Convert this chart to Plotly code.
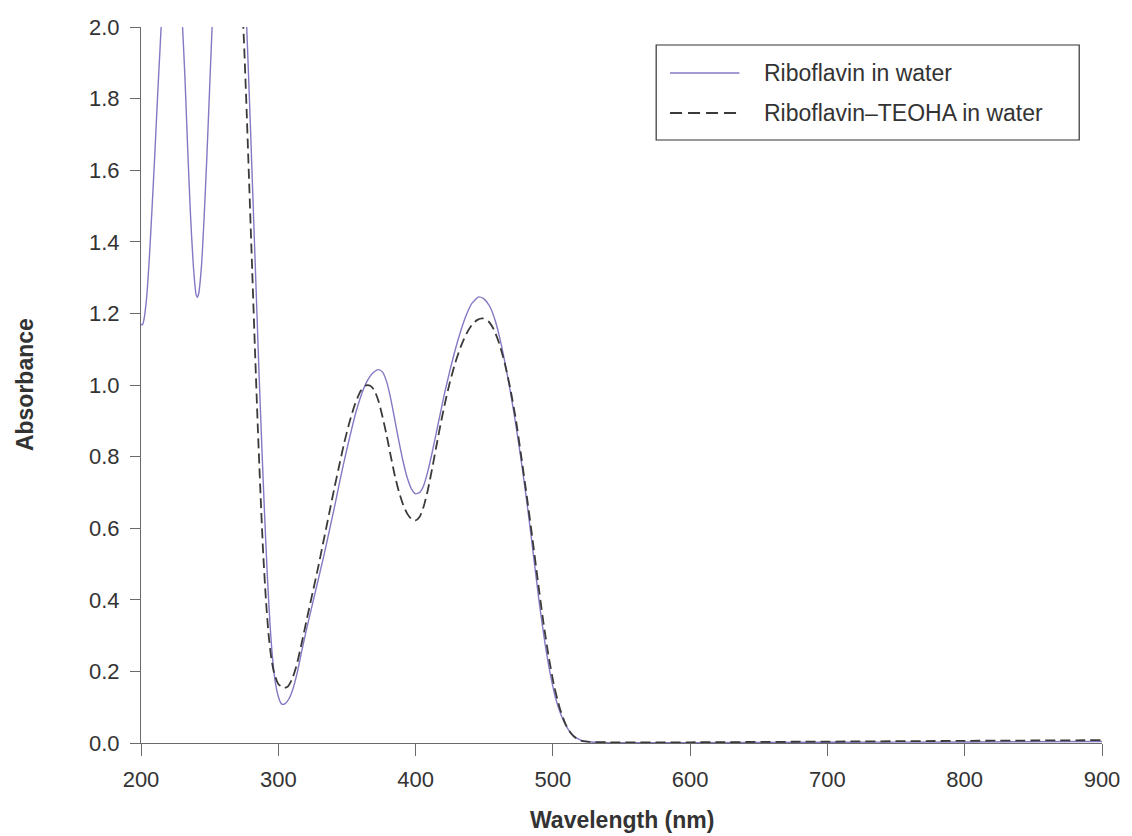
import plotly.graph_objects as go

# Riboflavin in water: absorbance spectrum
wl_water = [200, 201, 202, 204, 206, 208, 210, 212, 214, 216, 219, 222, 225, 228, 230,
            232, 234, 236, 238, 240, 241, 242, 244, 246, 248, 250, 252, 255, 260, 265,
            269, 273, 276, 278, 280, 282, 284, 286, 288, 290, 292, 294, 296, 298, 300,
            302, 303, 305, 308, 311, 314, 317, 321, 325, 329, 333, 337, 341, 345, 349,
            353, 357, 361, 365, 369, 373, 376, 379, 382, 385, 388, 391, 394, 397, 400,
            403, 406, 409, 412, 415, 418, 421, 425, 429, 433, 437, 441, 446, 450, 454,
            458, 462, 466, 470, 474, 478, 482, 486, 490, 494, 498, 502, 506, 510, 514,
            518, 522, 528, 540, 600, 700, 800, 900]
abs_water = [1.17, 1.168, 1.18, 1.24, 1.35, 1.49, 1.64, 1.80, 1.95, 2.10, 2.28, 2.36, 2.32, 2.15, 2.02,
             1.86, 1.66, 1.48, 1.34, 1.255, 1.245, 1.255, 1.33, 1.47, 1.64, 1.83, 2.02, 2.30, 2.62, 2.78,
             2.72, 2.42, 2.10, 1.90, 1.69, 1.47, 1.25, 1.03, 0.83, 0.64, 0.47, 0.33, 0.23, 0.165, 0.13,
             0.111, 0.108, 0.11, 0.125, 0.155, 0.20, 0.255, 0.325, 0.39, 0.455, 0.52, 0.59, 0.66, 0.735, 0.805,
             0.87, 0.93, 0.978, 1.013, 1.034, 1.043, 1.036, 1.008, 0.96, 0.90, 0.84, 0.785, 0.74, 0.71, 0.696,
             0.70, 0.72, 0.76, 0.81, 0.865, 0.92, 0.975, 1.04, 1.10, 1.152, 1.196, 1.228, 1.246, 1.24, 1.22,
             1.18, 1.12, 1.045, 0.96, 0.865, 0.76, 0.645, 0.52, 0.395, 0.285, 0.195, 0.125, 0.078, 0.045, 0.024,
             0.012, 0.006, 0.003, 0.001, 0.001, 0.002, 0.003, 0.004]

# Riboflavin-TEOHA in water: absorbance spectrum
wl_teoha = [270, 273, 275, 277, 279, 281, 283, 285, 287, 289, 291, 293, 295, 297, 300,
            304, 307, 310, 313, 317, 321, 325, 329, 333, 337, 341, 344, 348, 352, 356,
            360, 364, 367, 370, 373, 376, 379, 382, 385, 388, 391, 394, 397, 400, 403,
            406, 409, 412, 415, 418, 421, 425, 429, 433, 437, 441, 445, 449, 453, 457,
            461, 465, 469, 473, 477, 481, 485, 489, 493, 497, 501, 505, 509, 513, 517,
            521, 527, 540, 600, 700, 800, 900]
abs_teoha = [2.40, 2.12, 1.96, 1.76, 1.54, 1.32, 1.10, 0.89, 0.70, 0.53, 0.40, 0.30, 0.235, 0.195, 0.165,
             0.154, 0.158, 0.178, 0.212, 0.278, 0.35, 0.42, 0.49, 0.565, 0.64, 0.715, 0.768, 0.838, 0.898, 0.948,
             0.983, 0.999, 0.998, 0.985, 0.955, 0.91, 0.858, 0.80, 0.745, 0.70, 0.665, 0.64, 0.626, 0.622, 0.632,
             0.662, 0.708, 0.765, 0.826, 0.886, 0.942, 1.008, 1.063, 1.108, 1.143, 1.168, 1.182, 1.186, 1.178, 1.155,
             1.115, 1.06, 0.99, 0.905, 0.80, 0.69, 0.575, 0.455, 0.34, 0.24, 0.158, 0.098, 0.055, 0.028, 0.013,
             0.006, 0.003, 0.002, 0.002, 0.004, 0.006, 0.008]

series_names = ["Riboflavin in water", "Riboflavin\u2013TEOHA in water"]
x_ticks = [200, 300, 400, 500, 600, 700, 800, 900]
y_ticks = [0.0, 0.2, 0.4, 0.6, 0.8, 1.0, 1.2, 1.4, 1.6, 1.8, 2.0]

FONT = "Liberation Sans, Arial, Helvetica, sans-serif"
TEXT = "#333333"
AXIS = "#6a6a6a"
SOLID_COLOR = "#8677c4"
DASH_COLOR = "#3a3a3a"
DASH_PATTERN = "10px,5px"

fig = go.Figure()
fig.add_trace(go.Scatter(
    x=wl_water, y=abs_water, mode="lines", name=series_names[0],
    line=dict(color=SOLID_COLOR, width=1.4, shape="spline", smoothing=0.6),
    showlegend=False,
))
fig.add_trace(go.Scatter(
    x=wl_teoha, y=abs_teoha, mode="lines", name=series_names[1],
    line=dict(color=DASH_COLOR, width=1.8, dash=DASH_PATTERN, shape="spline", smoothing=0.6),
    showlegend=False,
))

axis_common = dict(
    showgrid=False, zeroline=False, showline=True, linecolor=AXIS, linewidth=1.2,
    ticks="outside", tickcolor=AXIS, tickwidth=1.2,
    tickfont=dict(family=FONT, size=22, color=TEXT),
)
fig.update_xaxes(range=[200, 900], tickvals=x_ticks, ticklen=12,
                 ticklabelstandoff=4, **axis_common)
fig.update_yaxes(range=[0, 2.0], tickvals=y_ticks, tickformat=".1f", ticklen=10,
                 ticklabelstandoff=6, **axis_common)

# Legend box drawn in paper coordinates
lx0, lx1, ly0, ly1 = 661, 1088, 45, 140
plot_l, plot_r, plot_t, plot_b = 141, 1111, 27, 743
W, H = 1132, 836


def px_to_paper_x(px):
    return (px - plot_l) / (plot_r - plot_l)


def px_to_paper_y(py):
    return (plot_b - py) / (plot_b - plot_t)


shapes = [
    dict(type="rect", xref="paper", yref="paper",
         x0=px_to_paper_x(lx0), x1=px_to_paper_x(lx1),
         y0=px_to_paper_y(ly1), y1=px_to_paper_y(ly0),
         line=dict(color="#333333", width=1.2), fillcolor="white", layer="above"),
    dict(type="line", xref="paper", yref="paper",
         x0=px_to_paper_x(675), x1=px_to_paper_x(745),
         y0=px_to_paper_y(73), y1=px_to_paper_y(73),
         line=dict(color=SOLID_COLOR, width=1.4)),
    dict(type="line", xref="paper", yref="paper",
         x0=px_to_paper_x(675), x1=px_to_paper_x(745),
         y0=px_to_paper_y(113), y1=px_to_paper_y(113),
         line=dict(color=DASH_COLOR, width=1.8, dash="12px,6px")),
]

annotations = [
    dict(text=series_names[0], xref="paper", yref="paper",
         x=px_to_paper_x(768), y=px_to_paper_y(73), xanchor="left", yanchor="middle",
         showarrow=False, font=dict(family=FONT, size=23, color=TEXT)),
    dict(text=series_names[1], xref="paper", yref="paper",
         x=px_to_paper_x(768), y=px_to_paper_y(113), xanchor="left", yanchor="middle",
         showarrow=False, font=dict(family=FONT, size=23, color=TEXT)),
    dict(text="<b>Wavelength (nm)</b>", xref="paper", yref="paper",
         x=0.5, y=px_to_paper_y(820), xanchor="center", yanchor="middle",
         showarrow=False, font=dict(family=FONT, size=23, color=TEXT)),
    dict(text="<b>Absorbance</b>", xref="paper", yref="paper",
         x=px_to_paper_x(24), y=0.5, xanchor="center", yanchor="middle", textangle=-90,
         showarrow=False, font=dict(family=FONT, size=23, color=TEXT)),
]

fig.update_layout(
    width=W, height=H,
    margin=dict(l=plot_l, r=W - plot_r, t=plot_t, b=H - plot_b, pad=0),
    plot_bgcolor="white", paper_bgcolor="white",
    shapes=shapes, annotations=annotations,
    showlegend=False,
)

fig.write_html("out.html")
